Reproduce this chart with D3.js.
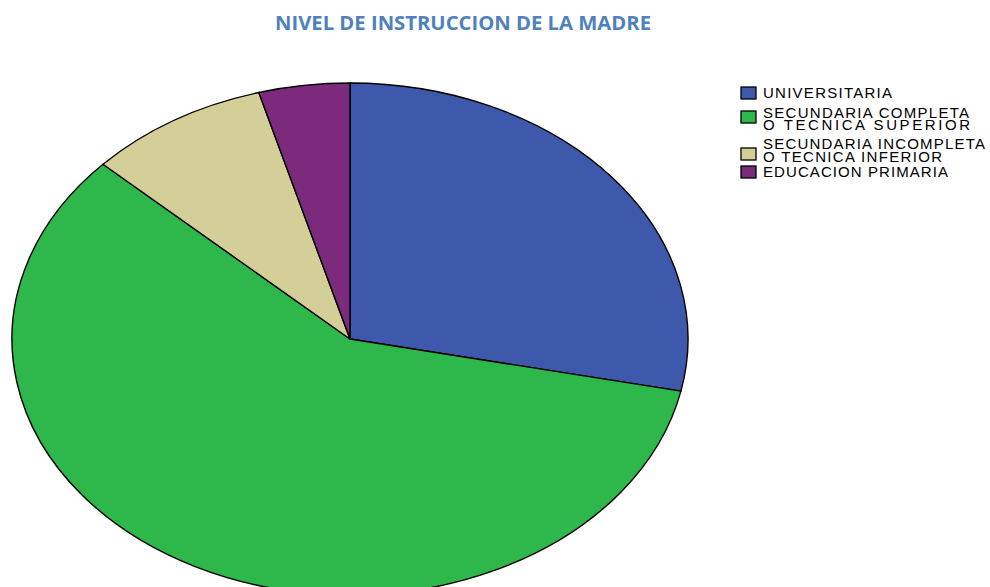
<!DOCTYPE html>
<html lang="es">
<head>
<meta charset="UTF-8">
<title>Nivel de instruccion de la madre</title>
<script src="https://d3js.org/d3.v7.min.js"></script>
<style>
  body { margin: 0; background: #fff; }
</style>
</head>
<body>
<div id="chart"></div>
<script>
// data (n = 46)
var categories = ["UNIVERSITARIA", "SECUNDARIA COMPLETA O TECNICA SUPERIOR",
                  "SECUNDARIA INCOMPLETA O TECNICA INFERIOR", "EDUCACION PRIMARIA"];
var counts = [13, 27, 4, 2];
var legendLines = [["UNIVERSITARIA"],
                   ["SECUNDARIA COMPLETA", "O TECNICA SUPERIOR"],
                   ["SECUNDARIA INCOMPLETA", "O TECNICA INFERIOR"],
                   ["EDUCACION PRIMARIA"]];
var colors = ["#3E58AC", "#2EB84B", "#D4CF99", "#7C2A7C"];

var W = 990, H = 587;
var cx = 350, cy = 339, rx = 338, ry = 256;

var svg = d3.select("#chart").append("svg")
    .attr("width", W).attr("height", H);

// title
svg.append("text")
    .attr("x", 275).attr("y", 30)
    .attr("textLength", 376)
    .attr("lengthAdjust", "spacingAndGlyphs")
    .style("font-family", "'Open Sans', sans-serif")
    .style("font-weight", 700)
    .style("font-size", "19px")
    .style("fill", "#4F81BD")
    .text("NIVEL DE INSTRUCCION DE LA MADRE");

// elliptical pie: draw a circle pie and stretch it horizontally
var pie = d3.pie().sort(null).value(function(d) { return d; });
var arc = d3.arc().innerRadius(0).outerRadius(ry);

var g = svg.append("g")
    .attr("transform", "translate(" + cx + "," + cy + ") scale(" + (rx / ry) + ",1)");

g.selectAll("path")
    .data(pie(counts))
    .enter().append("path")
    .attr("d", arc)
    .attr("fill", function(d, i) { return colors[i]; })
    .attr("stroke", "#000")
    .attr("stroke-width", 1.4)
    .attr("stroke-linejoin", "round")
    .attr("vector-effect", "non-scaling-stroke");

// legend
var swatchY = [87, 111, 148, 166];
var lineY = [[98], [118, 130], [149, 162], [177]];
var lineEnd = {
  "UNIVERSITARIA": 892, "SECUNDARIA COMPLETA": 969, "O TECNICA SUPERIOR": 970,
  "SECUNDARIA INCOMPLETA": 985, "O TECNICA INFERIOR": 942, "EDUCACION PRIMARIA": 948
};

var leg = svg.append("g");
categories.forEach(function(c, i) {
  leg.append("rect")
    .attr("x", 741).attr("y", swatchY[i])
    .attr("width", 15).attr("height", 12)
    .attr("fill", colors[i])
    .attr("stroke", "#000")
    .attr("stroke-width", 1.3);
  legendLines[i].forEach(function(t, j) {
    leg.append("text")
      .attr("x", 763).attr("y", lineY[i][j])
      .attr("textLength", lineEnd[t] - 763)
      .attr("lengthAdjust", "spacing")
      .style("font-family", "'Liberation Sans', Arial, sans-serif")
      .style("font-size", "15px")
      .style("fill", "#000")
      .text(t);
  });
});
</script>
</body>
</html>
